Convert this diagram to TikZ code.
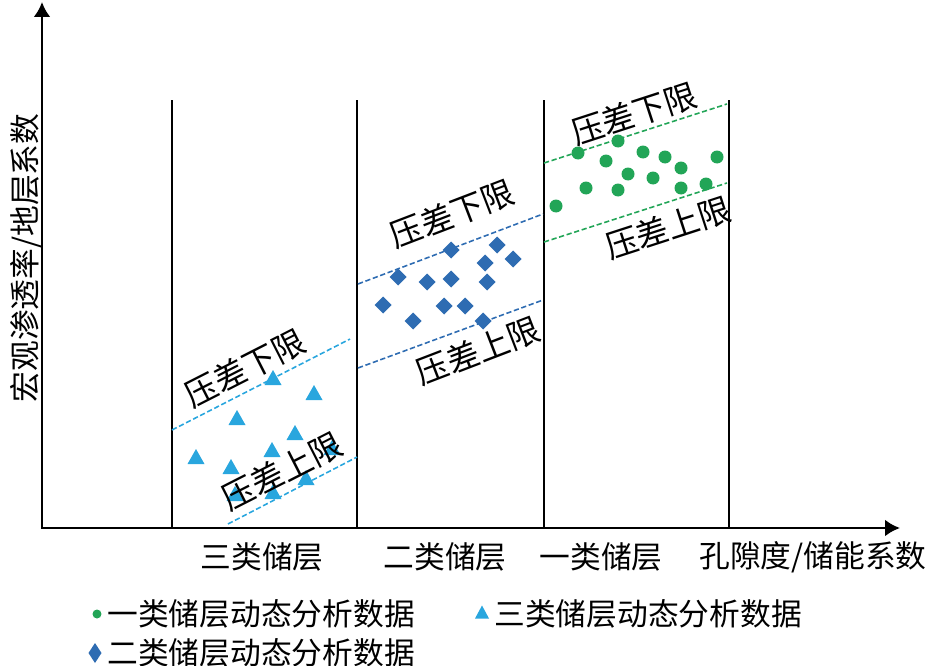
\documentclass[tikz,border=0pt]{standalone}
\usepackage{fontspec}
\setmainfont{Noto Sans CJK SC}
\usetikzlibrary{arrows.meta}
\definecolor{tricol}{HTML}{29A6DE}
\definecolor{diacol}{HTML}{2E6CB2}
\definecolor{dotcol}{HTML}{22A557}
\begin{document}
\begin{tikzpicture}[x=0.02cm,y=-0.02cm,
  lab/.style={font=\fontsize{17.5}{20}\selectfont,inner sep=0pt},
  band/.style={font=\fontsize{18.5}{21}\selectfont,inner sep=0pt},
  axis/.style={line width=1.6pt,line join=miter},
  wall/.style={line width=1.3pt},
  lim/.style={dash pattern=on 3pt off 1.5pt,line width=0.9pt}]
\useasboundingbox (0,0) rectangle (937,666);
% axes
\coordinate (O) at (42,528);
\coordinate (ytip) at (42,2);
\coordinate (xtip) at (900,528);
\draw[axis,{Latex[length=0.3cm,width=0.34cm]}-{Latex[length=0.3cm,width=0.34cm]}] (ytip)--(O)--(xtip);
\node[lab,rotate=90] (ylab) at (26,258) {宏观渗透率/地层系数};
\node[lab] (xlab) at (813,557) {孔隙度/储能系数};
% class boundaries
\foreach \x in {172,357,544,729} {\draw[wall] (\x,100)--(\x,528);}
\node[lab] (c3) at (262,557) {三类储层};
\node[lab] (c2) at (445,557) {二类储层};
\node[lab] (c1) at (601,557) {一类储层};
% class 3
\draw[lim,tricol] (172,430)--(350,339);
\draw[lim,tricol] (228,524)--(357,457);
\foreach \x/\y in {273/379,314/394,237/419,295/434,196/458,272/451,231/468,332/449,306/479,273/493,235/495}
  {\fill[tricol] (\x,\y) ++(0,-9)--++(8.5,15)--++(-17,0)--cycle;}
\node[band,rotate=27] (lo3) at (245,368) {压差下限};
\node[band,rotate=27] (up3) at (282,471) {压差上限};
% class 2
\draw[lim,diacol] (358,284)--(543,214);
\draw[lim,diacol] (358,368)--(543,300);
\foreach \x/\y in {451/250,497/245,513/259,485/263,398/277,427/282,451/279,487/282,383/305,444/306,465/306,413/321,483/321}
  {\fill[diacol] (\x,\y) ++(0,-8.5)--++(8.5,8.5)--++(-8.5,8.5)--++(-8.5,-8.5)--cycle;}
\node[band,rotate=21] (lo2) at (452,214) {压差下限};
\node[band,rotate=21] (up2) at (478,351) {压差上限};
% class 1
\draw[lim,dotcol] (544,163)--(727,104);
\draw[lim,dotcol] (544,242)--(727,183);
\foreach \x/\y in {618/141,578/153,606/161,643/152,665/157,717/157,628/174,681/168,653/178,586/188,618/190,681/188,706/184,556/206}
  {\fill[dotcol] (\x,\y) circle[radius=0.13cm];}
\node[band,rotate=18] (lo1) at (634,114) {压差下限};
\node[band,rotate=18] (up1) at (668,228) {压差上限};
% legend
\fill[dotcol] (97,614) circle[radius=0.09cm];
\node[lab,anchor=west] (k1) at (107,614) {一类储层动态分析数据};
\fill[tricol] (482,613) ++(0,-7.5)--++(7,13)--++(-14,0)--cycle;
\node[lab,anchor=west] (k3) at (494,614) {三类储层动态分析数据};
\fill[diacol] (95,653) ++(0,-10)--++(6.5,10)--++(-6.5,10)--++(-6.5,-10)--cycle;
\node[lab,anchor=west] (k2) at (107,653) {二类储层动态分析数据};
\end{tikzpicture}
\end{document}
